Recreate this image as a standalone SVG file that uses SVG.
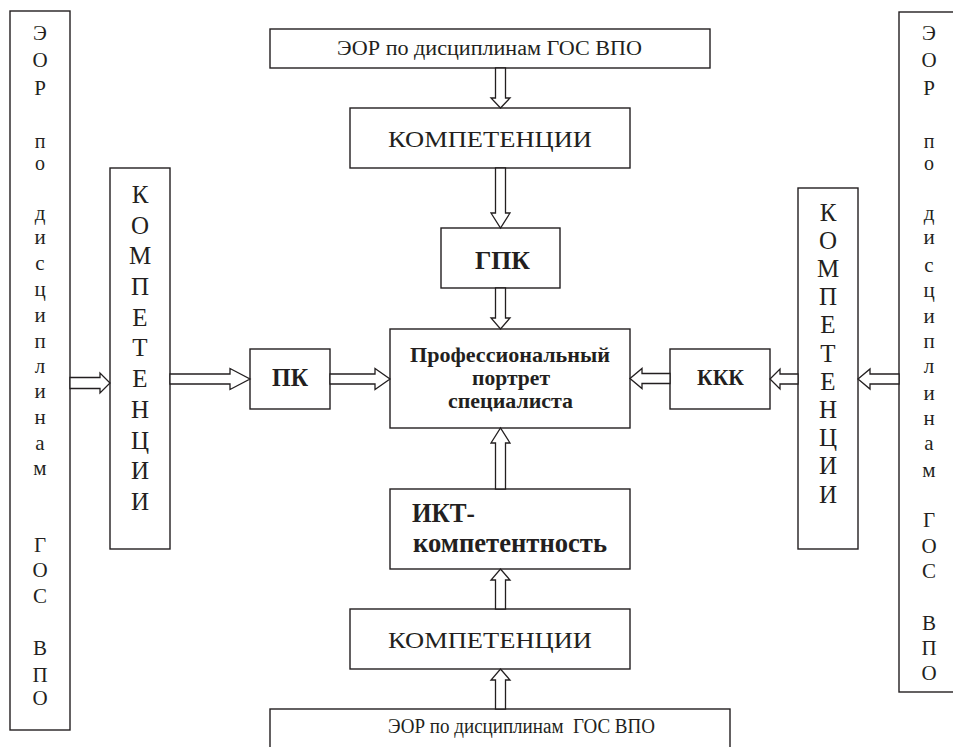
<svg xmlns="http://www.w3.org/2000/svg" width="953" height="747" viewBox="0 0 953 747">
<style>
.box{fill:#fff;stroke:#231f20;stroke-width:1.4}
.arr{fill:#fff;stroke:#231f20;stroke-width:1.3;stroke-linejoin:miter}
text{fill:#231f20}
tspan{font-family:'Liberation Serif',serif}
.b{font-weight:bold}
.col text{text-anchor:middle;font-size:21px}
.col .s{font-size:20px}
.vc text{text-anchor:middle;font-size:25px}
</style>
<rect width="953" height="747" fill="#fff"/>

<g id="left-eor">
<rect class="box" x="10" y="11" width="60" height="719"/>
<g class="col">
<text x="40" y="40"><tspan font-family="Liberation Serif" style="font-family:'Liberation Serif'">Э</tspan></text><text x="40" y="67"><tspan font-family="Liberation Serif" style="font-family:'Liberation Serif'">О</tspan></text><text x="40" y="95"><tspan font-family="Liberation Serif" style="font-family:'Liberation Serif'">Р</tspan></text>
<text class="s" x="40" y="148"><tspan font-family="Liberation Serif" style="font-family:'Liberation Serif'">п</tspan></text><text class="s" x="40" y="170"><tspan font-family="Liberation Serif" style="font-family:'Liberation Serif'">о</tspan></text>
<text x="40" y="220"><tspan font-family="Liberation Serif" style="font-family:'Liberation Serif'">д</tspan></text><text x="40" y="244"><tspan font-family="Liberation Serif" style="font-family:'Liberation Serif'">и</tspan></text><text x="40" y="270"><tspan font-family="Liberation Serif" style="font-family:'Liberation Serif'">с</tspan></text><text x="40" y="296"><tspan font-family="Liberation Serif" style="font-family:'Liberation Serif'">ц</tspan></text><text x="40" y="322"><tspan font-family="Liberation Serif" style="font-family:'Liberation Serif'">и</tspan></text><text x="40" y="348"><tspan font-family="Liberation Serif" style="font-family:'Liberation Serif'">п</tspan></text><text x="40" y="373"><tspan font-family="Liberation Serif" style="font-family:'Liberation Serif'">л</tspan></text><text x="40" y="398"><tspan font-family="Liberation Serif" style="font-family:'Liberation Serif'">и</tspan></text><text x="40" y="424"><tspan font-family="Liberation Serif" style="font-family:'Liberation Serif'">н</tspan></text><text x="40" y="450"><tspan font-family="Liberation Serif" style="font-family:'Liberation Serif'">а</tspan></text><text x="40" y="475"><tspan font-family="Liberation Serif" style="font-family:'Liberation Serif'">м</tspan></text>
<text x="40" y="552"><tspan font-family="Liberation Serif" style="font-family:'Liberation Serif'">Г</tspan></text><text x="40" y="577"><tspan font-family="Liberation Serif" style="font-family:'Liberation Serif'">О</tspan></text><text x="40" y="603"><tspan font-family="Liberation Serif" style="font-family:'Liberation Serif'">С</tspan></text>
<text x="40" y="655"><tspan font-family="Liberation Serif" style="font-family:'Liberation Serif'">В</tspan></text><text x="40" y="682"><tspan font-family="Liberation Serif" style="font-family:'Liberation Serif'">П</tspan></text><text x="40" y="705"><tspan font-family="Liberation Serif" style="font-family:'Liberation Serif'">О</tspan></text>
</g>
</g>

<g id="left-komp">
<rect class="box" x="110" y="168" width="60" height="381"/>
<g class="vc">
<text x="140" y="203"><tspan font-family="Liberation Serif" style="font-family:'Liberation Serif'">К</tspan></text><text x="140" y="234"><tspan font-family="Liberation Serif" style="font-family:'Liberation Serif'">О</tspan></text><text x="140" y="264"><tspan font-family="Liberation Serif" style="font-family:'Liberation Serif'">М</tspan></text><text x="140" y="295"><tspan font-family="Liberation Serif" style="font-family:'Liberation Serif'">П</tspan></text><text x="140" y="326"><tspan font-family="Liberation Serif" style="font-family:'Liberation Serif'">Е</tspan></text><text x="140" y="356"><tspan font-family="Liberation Serif" style="font-family:'Liberation Serif'">Т</tspan></text><text x="140" y="387"><tspan font-family="Liberation Serif" style="font-family:'Liberation Serif'">Е</tspan></text><text x="140" y="418"><tspan font-family="Liberation Serif" style="font-family:'Liberation Serif'">Н</tspan></text><text x="140" y="449"><tspan font-family="Liberation Serif" style="font-family:'Liberation Serif'">Ц</tspan></text><text x="140" y="479"><tspan font-family="Liberation Serif" style="font-family:'Liberation Serif'">И</tspan></text><text x="140" y="510"><tspan font-family="Liberation Serif" style="font-family:'Liberation Serif'">И</tspan></text>
</g>
</g>

<g id="right-komp">
<rect class="box" x="798" y="188" width="60" height="361"/>
<g class="vc">
<text x="828" y="221"><tspan font-family="Liberation Serif" style="font-family:'Liberation Serif'">К</tspan></text><text x="828" y="249"><tspan font-family="Liberation Serif" style="font-family:'Liberation Serif'">О</tspan></text><text x="828" y="277"><tspan font-family="Liberation Serif" style="font-family:'Liberation Serif'">М</tspan></text><text x="828" y="305"><tspan font-family="Liberation Serif" style="font-family:'Liberation Serif'">П</tspan></text><text x="828" y="333"><tspan font-family="Liberation Serif" style="font-family:'Liberation Serif'">Е</tspan></text><text x="828" y="362"><tspan font-family="Liberation Serif" style="font-family:'Liberation Serif'">Т</tspan></text><text x="828" y="390"><tspan font-family="Liberation Serif" style="font-family:'Liberation Serif'">Е</tspan></text><text x="828" y="418"><tspan font-family="Liberation Serif" style="font-family:'Liberation Serif'">Н</tspan></text><text x="828" y="446"><tspan font-family="Liberation Serif" style="font-family:'Liberation Serif'">Ц</tspan></text><text x="828" y="474"><tspan font-family="Liberation Serif" style="font-family:'Liberation Serif'">И</tspan></text><text x="828" y="503"><tspan font-family="Liberation Serif" style="font-family:'Liberation Serif'">И</tspan></text>
</g>
</g>

<g id="right-eor">
<rect class="box" x="899" y="12" width="80" height="680"/>
<g class="col">
<text x="929" y="40"><tspan font-family="Liberation Serif" style="font-family:'Liberation Serif'">Э</tspan></text><text x="929" y="67"><tspan font-family="Liberation Serif" style="font-family:'Liberation Serif'">О</tspan></text><text x="929" y="95"><tspan font-family="Liberation Serif" style="font-family:'Liberation Serif'">Р</tspan></text>
<text class="s" x="929" y="148"><tspan font-family="Liberation Serif" style="font-family:'Liberation Serif'">п</tspan></text><text class="s" x="929" y="170"><tspan font-family="Liberation Serif" style="font-family:'Liberation Serif'">о</tspan></text>
<text x="929" y="220"><tspan font-family="Liberation Serif" style="font-family:'Liberation Serif'">д</tspan></text><text x="929" y="244"><tspan font-family="Liberation Serif" style="font-family:'Liberation Serif'">и</tspan></text><text x="929" y="272"><tspan font-family="Liberation Serif" style="font-family:'Liberation Serif'">с</tspan></text><text x="929" y="297"><tspan font-family="Liberation Serif" style="font-family:'Liberation Serif'">ц</tspan></text><text x="929" y="323"><tspan font-family="Liberation Serif" style="font-family:'Liberation Serif'">и</tspan></text><text x="929" y="348"><tspan font-family="Liberation Serif" style="font-family:'Liberation Serif'">п</tspan></text><text x="929" y="373"><tspan font-family="Liberation Serif" style="font-family:'Liberation Serif'">л</tspan></text><text x="929" y="400"><tspan font-family="Liberation Serif" style="font-family:'Liberation Serif'">и</tspan></text><text x="929" y="425"><tspan font-family="Liberation Serif" style="font-family:'Liberation Serif'">н</tspan></text><text x="929" y="450"><tspan font-family="Liberation Serif" style="font-family:'Liberation Serif'">а</tspan></text><text x="929" y="477"><tspan font-family="Liberation Serif" style="font-family:'Liberation Serif'">м</tspan></text>
<text x="929" y="527"><tspan font-family="Liberation Serif" style="font-family:'Liberation Serif'">Г</tspan></text><text x="929" y="553"><tspan font-family="Liberation Serif" style="font-family:'Liberation Serif'">О</tspan></text><text x="929" y="578"><tspan font-family="Liberation Serif" style="font-family:'Liberation Serif'">С</tspan></text>
<text x="929" y="630"><tspan font-family="Liberation Serif" style="font-family:'Liberation Serif'">В</tspan></text><text x="929" y="655"><tspan font-family="Liberation Serif" style="font-family:'Liberation Serif'">П</tspan></text><text x="929" y="680"><tspan font-family="Liberation Serif" style="font-family:'Liberation Serif'">О</tspan></text>
</g>
</g>

<g id="top-eor">
<rect class="box" x="270" y="29" width="440" height="39"/>
<text x="337" y="55" font-size="20" textLength="305" lengthAdjust="spacingAndGlyphs"><tspan font-family="Liberation Serif" style="font-family:'Liberation Serif'">ЭОР по дисциплинам ГОС ВПО</tspan></text>
</g>

<g id="top-komp">
<rect class="box" x="350" y="108" width="280" height="60"/>
<text x="388" y="147" font-size="23" textLength="204" lengthAdjust="spacingAndGlyphs"><tspan font-family="Liberation Serif" style="font-family:'Liberation Serif'">КОМПЕТЕНЦИИ</tspan></text>
</g>

<g id="gpk">
<rect class="box" x="441" y="228" width="119" height="60"/>
<text class="b" x="475" y="269" font-size="25" textLength="55" lengthAdjust="spacingAndGlyphs"><tspan font-family="Liberation Serif" style="font-family:'Liberation Serif'">ГПК</tspan></text>
</g>

<g id="pk">
<rect class="box" x="250" y="349" width="80" height="60"/>
<text class="b" x="272" y="386" font-size="25" textLength="36" lengthAdjust="spacingAndGlyphs"><tspan font-family="Liberation Serif" style="font-family:'Liberation Serif'">ПК</tspan></text>
</g>

<g id="kkk">
<rect class="box" x="670" y="349" width="100" height="60"/>
<text class="b" x="697" y="385" font-size="23" textLength="47" lengthAdjust="spacingAndGlyphs"><tspan font-family="Liberation Serif" style="font-family:'Liberation Serif'">ККК</tspan></text>
</g>

<g id="portrait">
<rect class="box" x="390" y="329" width="240" height="99"/>
<text class="b" x="410" y="362" font-size="21" textLength="200" lengthAdjust="spacingAndGlyphs"><tspan font-family="Liberation Serif" style="font-family:'Liberation Serif'">Профессиональный</tspan></text>
<text class="b" x="472" y="385" font-size="21" textLength="78" lengthAdjust="spacingAndGlyphs"><tspan font-family="Liberation Serif" style="font-family:'Liberation Serif'">портрет</tspan></text>
<text class="b" x="448" y="408" font-size="21" textLength="125" lengthAdjust="spacingAndGlyphs"><tspan font-family="Liberation Serif" style="font-family:'Liberation Serif'">специалиста</tspan></text>
</g>

<g id="ikt">
<rect class="box" x="390" y="489" width="240" height="80"/>
<text class="b" x="412" y="522" font-size="27" textLength="63" lengthAdjust="spacingAndGlyphs"><tspan font-family="Liberation Serif" style="font-family:'Liberation Serif'">ИКТ-</tspan></text>
<text class="b" x="413" y="552" font-size="27" textLength="194" lengthAdjust="spacingAndGlyphs"><tspan font-family="Liberation Serif" style="font-family:'Liberation Serif'">компетентность</tspan></text>
</g>

<g id="bottom-komp">
<rect class="box" x="350" y="609" width="280" height="60"/>
<text x="388" y="648" font-size="23" textLength="204" lengthAdjust="spacingAndGlyphs"><tspan font-family="Liberation Serif" style="font-family:'Liberation Serif'">КОМПЕТЕНЦИИ</tspan></text>
</g>

<g id="bottom-eor">
<rect class="box" x="270" y="709" width="460" height="60"/>
<text x="388" y="733" font-size="20" textLength="267" lengthAdjust="spacingAndGlyphs" xml:space="preserve"><tspan font-family="Liberation Serif" style="font-family:'Liberation Serif'">ЭОР по дисциплинам  ГОС ВПО</tspan></text>
</g>

<g id="connectors">
<polygon class="arr" points="495.5,68 505.5,68 505.5,98 510,98 500.5,108 491,98 495.5,98"/>
<polygon class="arr" points="495.5,168 505.5,168 505.5,213 510,213 500.5,228 491,213 495.5,213"/>
<polygon class="arr" points="495.5,288 505.5,288 505.5,318 510,318 500.5,329 491,318 495.5,318"/>
<polygon class="arr" points="495.5,489 505.5,489 505.5,443 510,443 500.5,428 491,443 495.5,443"/>
<polygon class="arr" points="495.5,609 505.5,609 505.5,580 510,580 500.5,569 491,580 495.5,580"/>
<polygon class="arr" points="495.5,709 505.5,709 505.5,680 510,680 500.5,669 491,680 495.5,680"/>
<polygon class="arr" points="70,377.5 100,377.5 100,373 110,383 100,393 100,388.5 70,388.5"/>
<polygon class="arr" points="170,374 230,374 230,368.5 250,379 230,389.5 230,384 170,384"/>
<polygon class="arr" points="330,374 375,374 375,368.5 390,379 375,389.5 375,384 330,384"/>
<polygon class="arr" points="670,373.5 642,373.5 642,368.5 630,378.5 642,388.5 642,383.5 670,383.5"/>
<polygon class="arr" points="798,374 780,374 780,369 770,379 780,389 780,384 798,384"/>
<polygon class="arr" points="899,374 870,374 870,369 858,379 870,389 870,384 899,384"/>
</g>
</svg>
